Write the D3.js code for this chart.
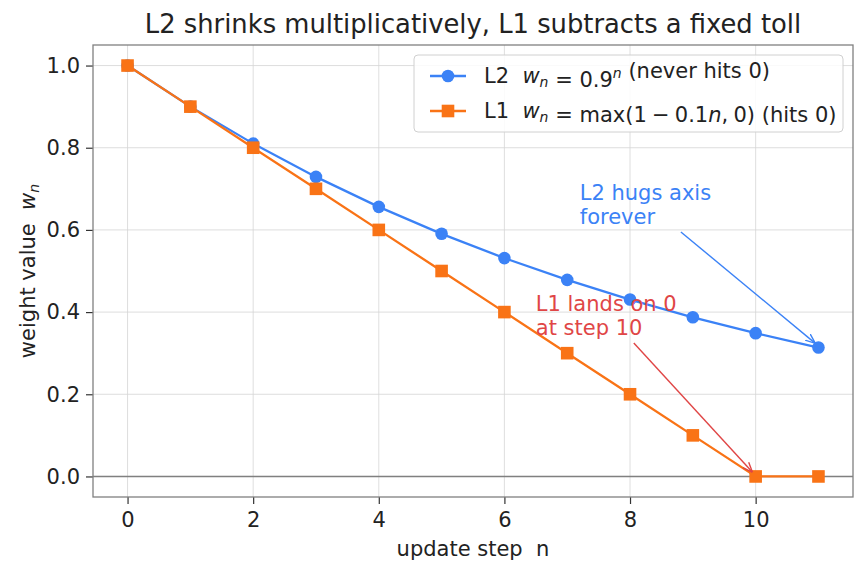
<!DOCTYPE html>
<html lang="en">
<head>
<meta charset="utf-8">
<title>L2 vs L1 shrinkage</title>
<script src="https://d3js.org/d3.v7.min.js"></script>
<style>
  body { margin: 0; background: #fff; }
  text { font-family: "DejaVu Sans", sans-serif; fill: #222; white-space: pre; }
</style>
</head>
<body>
<script>
// data
var steps = [0, 1, 2, 3, 4, 5, 6, 7, 8, 9, 10, 11];
var l2Values = [1.0, 0.9, 0.81, 0.729, 0.6561, 0.5905, 0.5314, 0.4783, 0.4305, 0.3874, 0.3487, 0.3138];
var l1Values = [1.0, 0.9, 0.8, 0.7, 0.6, 0.5, 0.4, 0.3, 0.2, 0.1, 0.0, 0.0];
var xTicks = [0, 2, 4, 6, 8, 10];
var yTicks = [0.0, 0.2, 0.4, 0.6, 0.8, 1.0];

var width = 866, height = 573;
var margin = {top: 45, right: 13, bottom: 76, left: 93};
var blue = "#3b82f6", orange = "#f97316", red = "#e04646";
var fs = 21;

var svg = d3.select("body").append("svg")
    .attr("width", width)
    .attr("height", height);

var x = d3.scaleLinear().domain([-0.55, 11.55]).range([margin.left, width - margin.right]);
var y = d3.scaleLinear().domain([-0.05, 1.05]).range([height - margin.bottom, margin.top]);

// grid
svg.append("g").selectAll("line").data(xTicks).enter().append("line")
    .attr("x1", d => x(d)).attr("x2", d => x(d))
    .attr("y1", margin.top).attr("y2", height - margin.bottom)
    .attr("stroke", "#d6d6d6").attr("stroke-width", 0.8);
svg.append("g").selectAll("line").data(yTicks).enter().append("line")
    .attr("x1", margin.left).attr("x2", width - margin.right)
    .attr("y1", d => y(d)).attr("y2", d => y(d))
    .attr("stroke", "#d6d6d6").attr("stroke-width", 0.8);

// zero line
svg.append("line")
    .attr("x1", margin.left).attr("x2", width - margin.right)
    .attr("y1", y(0)).attr("y2", y(0))
    .attr("stroke", "#808080").attr("stroke-width", 1.6);

// axes
var xAxis = svg.append("g")
    .attr("transform", "translate(0," + (height - margin.bottom) + ")")
    .call(d3.axisBottom(x).tickValues(xTicks).tickFormat(d3.format("d")).tickSize(7).tickPadding(8));
var yAxis = svg.append("g")
    .attr("transform", "translate(" + margin.left + ",0)")
    .call(d3.axisLeft(y).tickValues(yTicks).tickFormat(d3.format(".1f")).tickSize(7).tickPadding(6));
[xAxis, yAxis].forEach(function(a) {
  a.select(".domain").remove();
  a.selectAll("line").attr("stroke", "#333").attr("stroke-width", 1.2);
  a.selectAll("text").style("font-size", fs + "px").attr("fill", "#222");
});

// frame
svg.append("rect")
    .attr("x", margin.left).attr("y", margin.top)
    .attr("width", width - margin.left - margin.right)
    .attr("height", height - margin.top - margin.bottom)
    .attr("fill", "none").attr("stroke", "#808080").attr("stroke-width", 1.3);

// lines
var line = d3.line().x((d, i) => x(steps[i])).y(d => y(d));
svg.append("path").datum(l2Values).attr("d", line)
    .attr("fill", "none").attr("stroke", blue).attr("stroke-width", 2.3);
svg.append("path").datum(l1Values).attr("d", line)
    .attr("fill", "none").attr("stroke", orange).attr("stroke-width", 2.3);

svg.append("g").selectAll("circle").data(l2Values).enter().append("circle")
    .attr("cx", (d, i) => x(steps[i])).attr("cy", d => y(d))
    .attr("r", 6.3).attr("fill", blue);
svg.append("g").selectAll("rect").data(l1Values).enter().append("rect")
    .attr("x", (d, i) => x(steps[i]) - 6.3).attr("y", d => y(d) - 6.3)
    .attr("width", 12.6).attr("height", 12.6).attr("fill", orange);

// annotations
var defs = svg.append("defs");
function marker(id, color) {
  defs.append("marker").attr("id", id)
      .attr("viewBox", "0 0 10 10").attr("refX", 10).attr("refY", 5)
      .attr("markerWidth", 10).attr("markerHeight", 10).attr("orient", "auto")
      .attr("markerUnits", "userSpaceOnUse")
      .append("path").attr("d", "M0,1 L10,5 L0,9").attr("fill", "none")
      .attr("stroke", color).attr("stroke-width", 1.4);
}
marker("arrBlue", blue);
marker("arrRed", red);

function annotate(lines, tx, ty, sx, sy, px, py, color, mid) {
  var t = svg.append("text").attr("x", x(tx)).attr("y", y(ty))
      .style("font-size", fs + "px").style("fill", color);
  lines.forEach(function(s, i) {
    t.append("tspan").attr("x", x(tx)).attr("dy", i ? 24 : 0).text(s);
  });
  svg.append("line")
      .attr("x1", x(sx)).attr("y1", y(sy))
      .attr("x2", x(px)).attr("y2", y(py))
      .attr("stroke", color).attr("stroke-width", 1.4)
      .attr("marker-end", "url(#" + mid + ")");
}
annotate(["L2 hugs axis", "forever"], 7.2, 0.673, 8.81, 0.595, 11 - 0.05, l2Values[11] + 0.01, blue, "arrBlue");
annotate(["L1 lands on 0", "at step 10"], 6.5, 0.402, 8.06, 0.325, 10 - 0.05, 0.01, red, "arrRed");

// legend
var lg = svg.append("g").attr("transform", "translate(414,55)");
lg.append("rect").attr("width", 429).attr("height", 77).attr("rx", 4)
    .attr("fill", "#fff").attr("fill-opacity", 0.85)
    .attr("stroke", "#d0d0d0").attr("stroke-width", 1);
var legendRows = [
  {color: blue, shape: "circle", parts: [["L2  ", ""], ["w", "i"], ["n", "sub"], [" = 0.9", ""], ["n", "sup"], [" (never hits 0)", ""]]},
  {color: orange, shape: "square", parts: [["L1  ", ""], ["w", "i"], ["n", "sub"], [" = max(1\u2005\u2212\u20050.1", ""], ["n", "i"], [",\u20050) (hits 0)", ""]]}
];
legendRows.forEach(function(r, i) {
  var cy = 21 + i * 35;
  lg.append("line").attr("x1", 16).attr("x2", 52).attr("y1", cy).attr("y2", cy)
      .attr("stroke", r.color).attr("stroke-width", 2.3);
  if (r.shape === "circle") {
    lg.append("circle").attr("cx", 34).attr("cy", cy).attr("r", 6.3).attr("fill", r.color);
  } else {
    lg.append("rect").attr("x", 27.7).attr("y", cy - 6.3).attr("width", 12.6).attr("height", 12.6).attr("fill", r.color);
  }
  var t = lg.append("text").attr("x", 70).attr("y", cy + 7).style("font-size", fs + "px");
  r.parts.forEach(function(p) {
    var ts = t.append("tspan").text(p[0]);
    if (p[1] === "i") ts.style("font-style", "italic");
    if (p[1] === "sub") ts.style("font-style", "italic").style("font-size", "14px").attr("dy", 4);
    if (p[1] === "sup") ts.style("font-style", "italic").style("font-size", "14px").attr("dy", -9);
    if (p[1] === "sub" || p[1] === "sup") {
      t.append("tspan").attr("dy", p[1] === "sub" ? -4 : 9).text("");
    }
  });
});

// title and labels
svg.append("text").attr("x", (margin.left + width - margin.right) / 2).attr("y", 33)
    .attr("text-anchor", "middle").style("font-size", "25.8px")
    .text("L2 shrinks multiplicatively, L1 subtracts a fixed toll");
svg.append("text").attr("x", (margin.left + width - margin.right) / 2).attr("y", 556)
    .attr("text-anchor", "middle").style("font-size", fs + "px")
    .text("update step  n");
var yl = svg.append("text").attr("transform", "translate(35," + ((margin.top + height - margin.bottom) / 2) + ") rotate(-90)")
    .attr("text-anchor", "middle").style("font-size", fs + "px");
yl.append("tspan").text("weight value  ");
yl.append("tspan").style("font-style", "italic").text("w");
yl.append("tspan").style("font-style", "italic").style("font-size", "14px").attr("dy", 4).text("n");
</script>
</body>
</html>
